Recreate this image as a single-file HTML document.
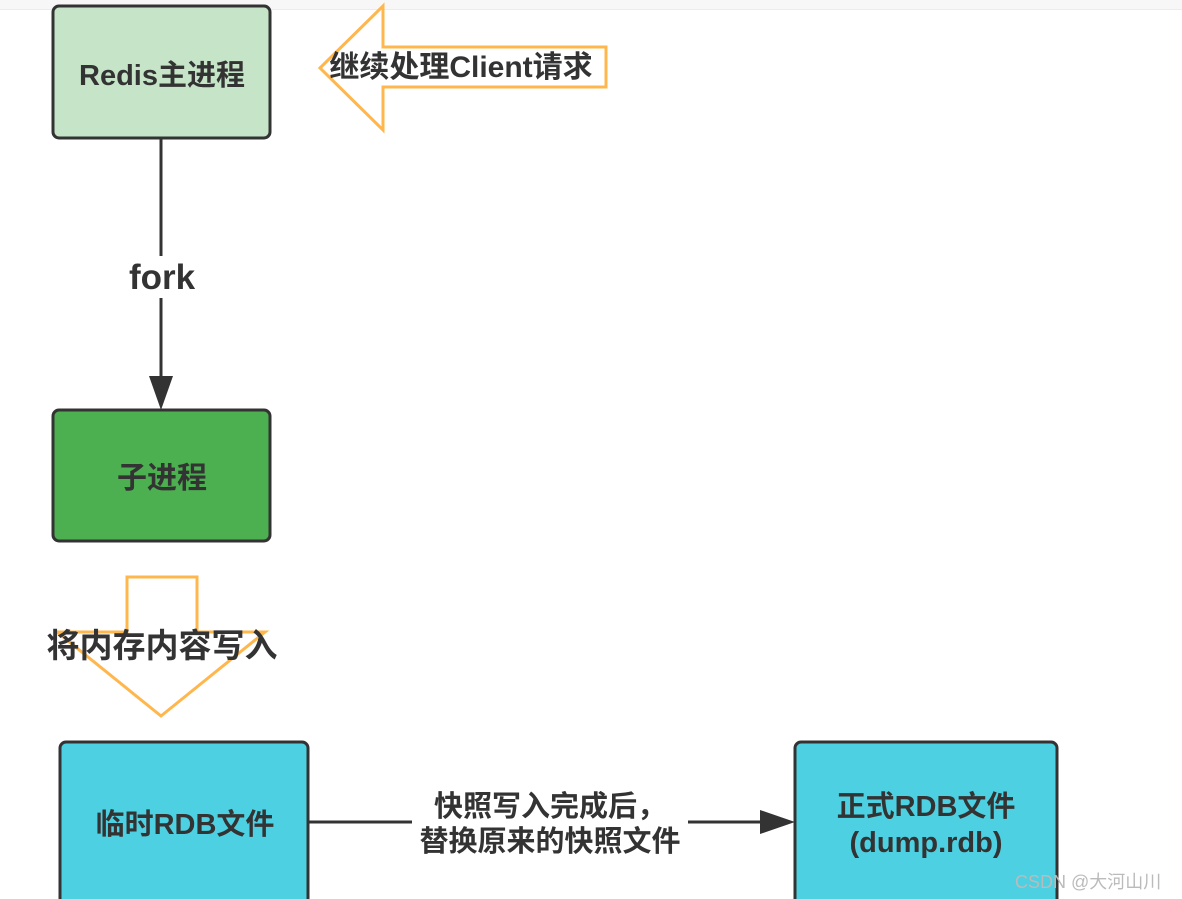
<!DOCTYPE html>
<html><head><meta charset="utf-8"><style>
body{margin:0;width:1182px;height:899px;overflow:hidden;background:#fff;font-family:"Liberation Sans","Noto Sans CJK SC",sans-serif;}
</style></head><body>
<svg width="1182" height="899" xmlns="http://www.w3.org/2000/svg" style="position:absolute;left:0;top:0">
<rect x="0" y="0" width="1182" height="9" fill="#f7f7f7"/>
<line x1="0" y1="9.5" x2="1182" y2="9.5" stroke="#ececec"/>
<g font-family="Liberation Sans, Noto Sans CJK SC, sans-serif" font-weight="bold" fill="#333">
<rect x="53" y="6" width="217" height="132" rx="6" fill="#c6e5c8" stroke="#333" stroke-width="3"/>
<text x="162" y="85" font-size="29" text-anchor="middle">Redis主进程</text>
<polygon points="320,68 383,6 383,47 606,47 606,87 383,87 383,130" fill="#fff" stroke="#ffb74d" stroke-width="3"/>
<text x="461" y="77" font-size="30" text-anchor="middle">继续处理Client请求</text>
<line x1="161" y1="138" x2="161" y2="380" stroke="#333" stroke-width="3"/>
<rect x="115" y="256" width="92" height="42" fill="#fff"/>
<text x="162" y="289" font-size="35" text-anchor="middle">fork</text>
<polygon points="149,376 173,376 161,410" fill="#333"/>
<rect x="53" y="410" width="217" height="131" rx="6" fill="#4caf50" stroke="#333" stroke-width="3"/>
<text x="162" y="488" font-size="30" text-anchor="middle">子进程</text>
<polygon points="127,577 197,577 197,632 265,632 161,716 57,632 127,632" fill="#fff" stroke="#ffb74d" stroke-width="3"/>
<text x="162" y="657" font-size="33" text-anchor="middle">将内存内容写入</text>
<rect x="60" y="742" width="248" height="165" rx="6" fill="#4dd0e1" stroke="#333" stroke-width="3"/>
<text x="185" y="834" font-size="29" text-anchor="middle">临时RDB文件</text>
<rect x="795" y="742" width="262" height="165" rx="6" fill="#4dd0e1" stroke="#333" stroke-width="3"/>
<text x="926" y="816" font-size="29" text-anchor="middle">正式RDB文件</text>
<text x="926" y="852" font-size="29" text-anchor="middle">(dump.rdb)</text>
<line x1="308" y1="822" x2="762" y2="822" stroke="#333" stroke-width="3"/>
<rect x="412" y="786" width="276" height="74" fill="#fff"/>
<polygon points="760,810 795,822 760,834" fill="#333"/>
<text x="550" y="816" font-size="29" text-anchor="middle">快照写入完成后，</text>
<text x="550" y="851" font-size="29" text-anchor="middle">替换原来的快照文件</text>
</g>
<text x="1015" y="888" font-size="18" fill="#bbb" font-family="Liberation Sans, Noto Sans CJK SC, sans-serif">CSDN @大河山川</text>
</svg>
</body></html>
